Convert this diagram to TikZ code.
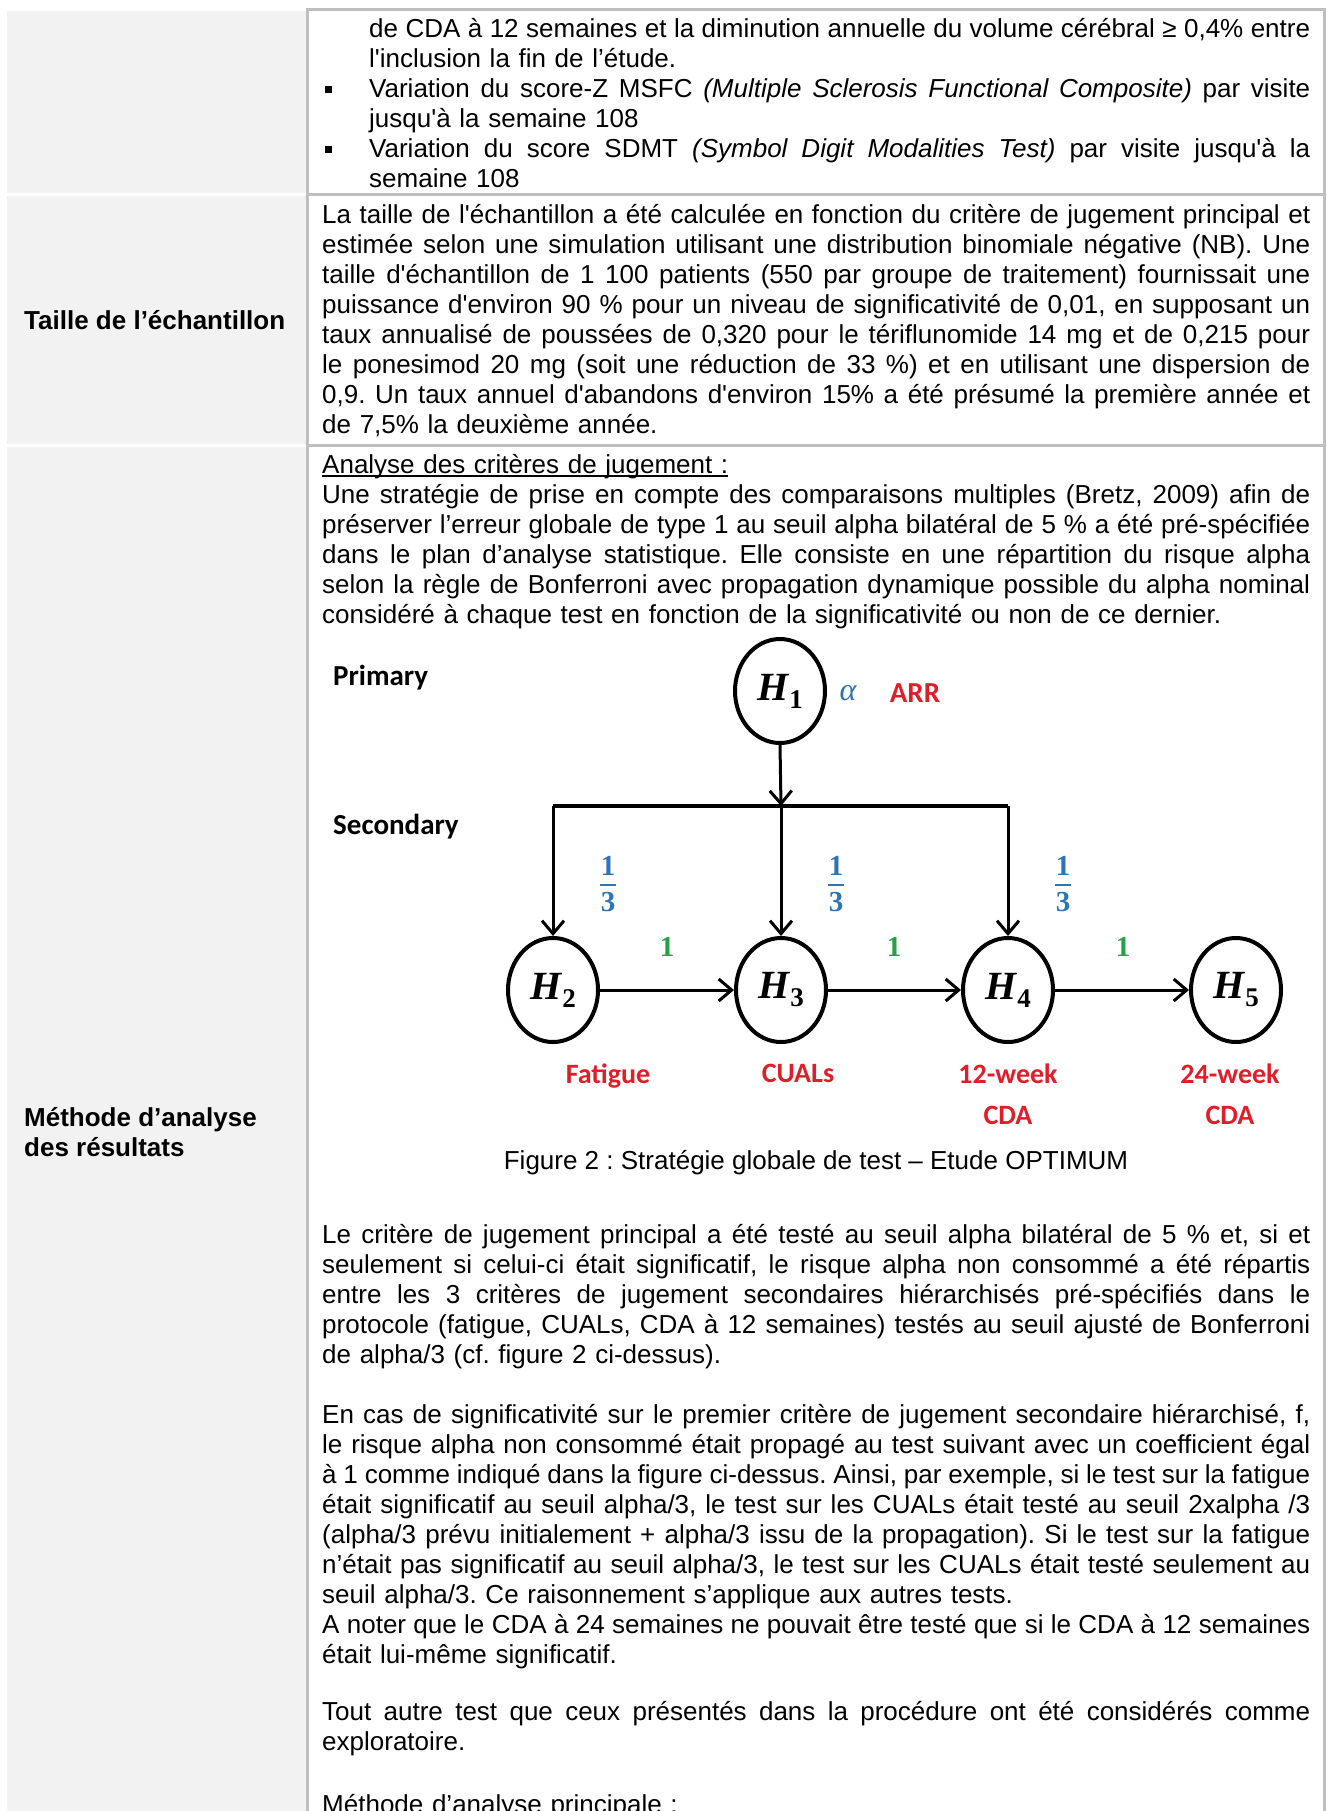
\documentclass[tikz,border=0pt]{standalone}
\usepackage{fontspec}
\setmainfont{Liberation Sans}[Ligatures=TeXOff]
\newfontfamily\calib{Carlito}[Ligatures=TeXOff]
\newfontfamily\hfont{Liberation Serif}[Ligatures=TeXOff]
\usetikzlibrary{arrows.meta,shapes.geometric}
\definecolor{cellgray}{RGB}{242,242,242}
\definecolor{rulegray}{RGB}{191,191,191}
\definecolor{dblue}{RGB}{46,117,182}
\definecolor{dgreen}{RGB}{40,160,70}
\definecolor{dred}{RGB}{225,30,40}
\setlength\parindent{0pt}
\frenchspacing
\newcommand\jline[2]{\leavevmode\hbox to #1{\spaceskip=0.278em plus 1fil minus 0.15em\xspaceskip=\spaceskip #2}}
\newcommand\myul[1]{\setbox0\hbox{#1}\rlap{\rule[-3.5pt]{\wd0}{1.5pt}}\box0}
\newcommand\hlab[1]{{\hfont\bfseries\itshape\fontsize{40}{40}\selectfont H}\kern1pt\raisebox{-8pt}{\hfont\bfseries\fontsize{27}{27}\selectfont #1}}
\newcommand\fracthird{\vbox{\hbox to 16pt{\hss 1\hss}\kern9pt\hrule height 1.5pt\kern7pt\hbox to 16pt{\hss 3\hss}}}
\begin{document}
\begin{tikzpicture}[x=1pt,y=-1pt,
  body/.style={anchor=north west, inner sep=0pt, text width=#1, align=left,
    font=\fontsize{26}{30}\selectfont},
  body/.default=988pt,
  side/.style={anchor=west, inner sep=0pt, align=left, font=\fontsize{26}{30}\selectfont\bfseries},
  bulletmark/.style={fill=black, inner sep=0pt, minimum width=7pt, minimum height=7pt},
  hyp/.style={ellipse, draw, line width=4pt, minimum width=90pt, minimum height=104pt, inner sep=0pt},
  arr/.style={line width=3pt, -{Straight Barb[length=13pt,width=22pt]}},
  cal/.style={inner sep=0pt, font=\calib\bfseries\fontsize{29}{40}\selectfont, align=center},
  redlab/.style={inner sep=0pt, text=dred, anchor=north, align=center, font=\calib\bfseries\fontsize{28}{41}\selectfont},
  fr/.style={inner sep=0pt, text=dblue, font=\hfont\bfseries\fontsize{29}{29}\selectfont},
  one/.style={inner sep=0pt, text=dgreen, font=\hfont\bfseries\fontsize{29}{29}\selectfont},
  cellrule/.style={draw=rulegray, line width=3pt}
]
\useasboundingbox (0,0) rectangle (1326,1811);
\fill[white] (0,0) rectangle (1326,1811);
% left column cells
\fill[cellgray] (7,11) rectangle (306,193);
\fill[cellgray] (7,196) rectangle (306,444);
\fill[cellgray] (7,447) rectangle (306,1811);
% right column borders
\draw[cellrule] (307.5,9.5) -- (1324.5,9.5);
\draw[cellrule] (307.5,194.5) -- (1324.5,194.5);
\draw[cellrule] (307.5,445.5) -- (1324.5,445.5);
\draw[cellrule] (307.5,8) -- (307.5,1811);
\draw[cellrule] (1324.5,8) -- (1324.5,1811);

% row 1
\node[body=941pt] (r1) at (369,16) {\strut\jline{941pt}{de CDA à 12 semaines et la diminution annuelle du volume cérébral ≥ 0,4\% entre}\\
l'inclusion la fin de l’étude.\\
\jline{941pt}{Variation du score-Z MSFC \textit{(Multiple Sclerosis Functional Composite)} par visite}\\
jusqu'à la semaine 108\\
\jline{941pt}{Variation du score SDMT \textit{(Symbol Digit Modalities Test)} par visite jusqu'à la}\\
semaine 108};
\node[bulletmark] (u1) at (328.5,90) {};
\node[bulletmark] (u2) at (328.5,150) {};

% row 2
\node[side] (lab2) at (24,320) {Taille de l’échantillon};
\node[body] (r2) at (322,202) {\strut\jline{988pt}{La taille de l'échantillon a été calculée en fonction du critère de jugement principal et}\\
\jline{988pt}{estimée selon une simulation utilisant une distribution binomiale négative (NB). Une}\\
\jline{988pt}{taille d'échantillon de 1 100 patients (550 par groupe de traitement) fournissait une}\\
\jline{988pt}{puissance d'environ 90 \% pour un niveau de significativité de 0,01, en supposant un}\\
\jline{988pt}{taux annualisé de poussées de 0,320 pour le tériflunomide 14 mg et de 0,215 pour}\\
\jline{988pt}{le ponesimod 20 mg (soit une réduction de 33 \%) et en utilisant une dispersion de}\\
\jline{988pt}{0,9. Un taux annuel d'abandons d'environ 15\% a été présumé la première année et}\\
de 7,5\% la deuxième année.};

% row 3
\node[side] (lab3) at (24,1132) {Méthode d’analyse\\des résultats};
\node[body] (r3) at (322,452) {\strut\myul{Analyse des critères de jugement :}\\
\jline{988pt}{Une stratégie de prise en compte des comparaisons multiples (Bretz, 2009) afin de}\\
\jline{988pt}{préserver l’erreur globale de type 1 au seuil alpha bilatéral de 5 \% a été pré-spécifiée}\\
\jline{988pt}{dans le plan d’analyse statistique. Elle consiste en une répartition du risque alpha}\\
\jline{988pt}{selon la règle de Bonferroni avec propagation dynamique possible du alpha nominal}\\
considéré à chaque test en fonction de la significativité ou non de ce dernier.};

% diagram
\node[cal, anchor=west] (prim) at (333,678) {Primary};
\node[cal, anchor=west] (sec) at (333,827) {Secondary};
\node[hyp] (h1) at (780,691) {\hlab{1}};
\node[inner sep=0pt, text=dblue, font=\hfont\itshape\fontsize{32}{32}\selectfont] (alpha) at (848,693) {α};
\node[cal, text=dred] (arrlab) at (915,693) {ARR};
\node[hyp] (h2) at (553,990) {\hlab{2}};
\node[hyp] (h3) at (781,990) {\hlab{3}};
\node[hyp] (h4) at (1008,990) {\hlab{4}};
\node[hyp] (h5) at (1236,990) {\hlab{5}};
\coordinate (b2) at (553,806);
\coordinate (b3) at (781,806);
\coordinate (b4) at (1008,806);
\draw[arr] (h1.south) -- (b3);
\draw[line width=4pt] (b2) -- (b4);
\draw[arr] (b2) -- (h2.north);
\draw[arr] (b3) -- (h3.north);
\draw[arr] (b4) -- (h4.north);
\draw[arr] (h2.east) -- (h3.west);
\draw[arr] (h3.east) -- (h4.west);
\draw[arr] (h4.east) -- (h5.west);
\node[fr] (f2) at (608,884) {\fracthird};
\node[fr] (f3) at (836,884) {\fracthird};
\node[fr] (f4) at (1063,884) {\fracthird};
\node[one] (o23) at (667,947) {1};
\node[one] (o34) at (894,947) {1};
\node[one] (o45) at (1123,947) {1};
\node[redlab] (l2) at (608,1064) {Fatigue};
\node[redlab] (l3) at (798,1064) {CUALs};
\node[redlab] (l4) at (1008,1064) {12-week\\CDA};
\node[redlab] (l5) at (1230,1064) {24-week\\CDA};
\node[inner sep=0pt, font=\fontsize{26}{30}\selectfont] (cap) at (816,1163) {Figure 2 : Stratégie globale de test – Etude OPTIMUM};

% paragraphs
\node[body] (p1) at (322,1222) {\strut\jline{988pt}{Le critère de jugement principal a été testé au seuil alpha bilatéral de 5 \% et, si et}\\
\jline{988pt}{seulement si celui-ci était significatif, le risque alpha non consommé a été répartis}\\
\jline{988pt}{entre les 3 critères de jugement secondaires hiérarchisés pré-spécifiés dans le}\\
\jline{988pt}{protocole (fatigue, CUALs, CDA à 12 semaines) testés au seuil ajusté de Bonferroni}\\
de alpha/3 (cf. figure 2 ci-dessus).};
\node[body] (p2) at (322,1402) {\strut\jline{988pt}{En cas de significativité sur le premier critère de jugement secondaire hiérarchisé, f,}\\
\jline{988pt}{le risque alpha non consommé était propagé au test suivant avec un coefficient égal}\\
\jline{988pt}{à 1 comme indiqué dans la figure ci-dessus. Ainsi, par exemple, si le test sur la fatigue}\\
\jline{988pt}{était significatif au seuil alpha/3, le test sur les CUALs était testé au seuil 2xalpha /3}\\
\jline{988pt}{(alpha/3 prévu initialement + alpha/3 issu de la propagation). Si le test sur la fatigue}\\
\jline{988pt}{n’était pas significatif au seuil alpha/3, le test sur les CUALs était testé seulement au}\\
seuil alpha/3. Ce raisonnement s’applique aux autres tests.\\
\jline{988pt}{A noter que le CDA à 24 semaines ne pouvait être testé que si le CDA à 12 semaines}\\
était lui-même significatif.};
\node[body] (p4) at (322,1699) {\strut\jline{988pt}{Tout autre test que ceux présentés dans la procédure ont été considérés comme}\\
exploratoire.};
\node[body] (p5) at (322,1792) {\strut\myul{Méthode d’analyse principale :}};
\end{tikzpicture}
\end{document}
